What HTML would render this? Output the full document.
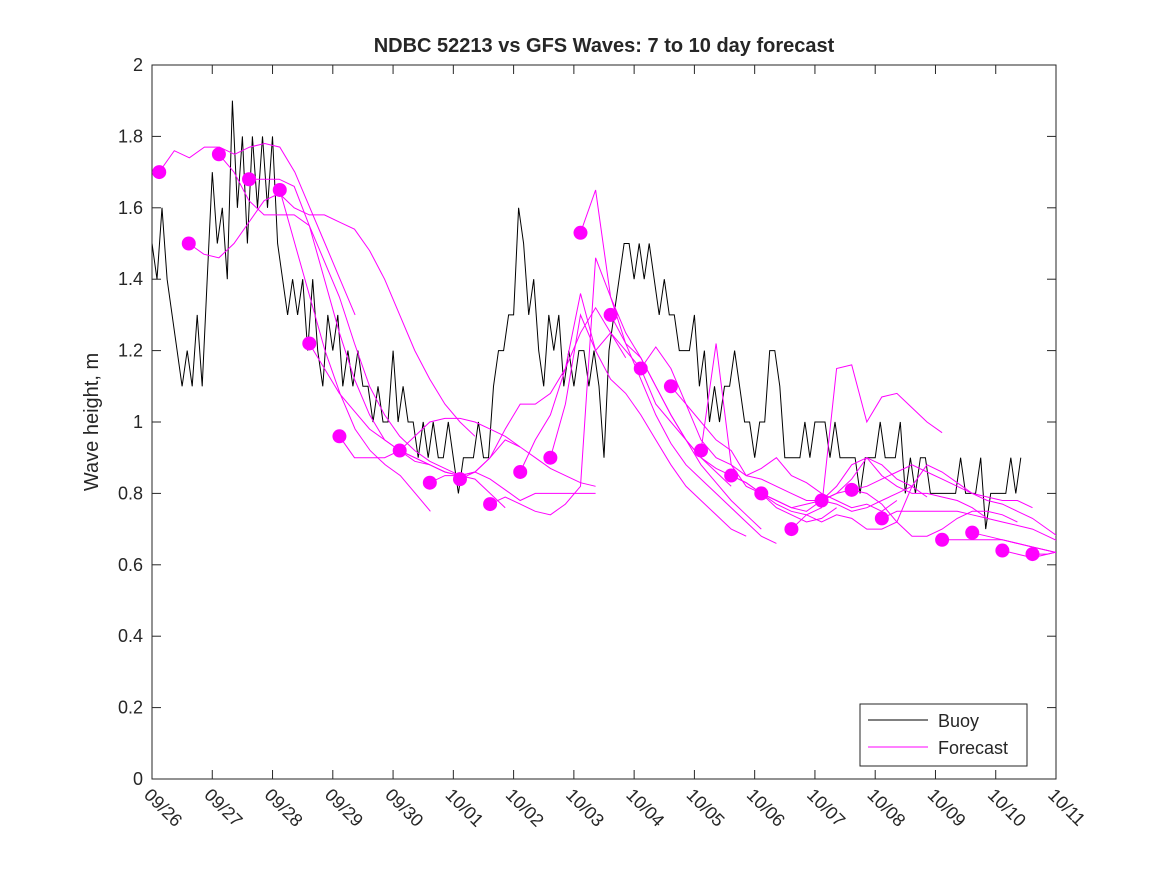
<!DOCTYPE html>
<html><head><meta charset="utf-8"><style>
body{margin:0;background:#fff;}
svg text{font-family:"Liberation Sans","DejaVu Sans",sans-serif;fill:#262626;}
</style></head><body>
<svg id="c" width="1167" height="875">
<rect width="1167" height="875" fill="#fff"/>
<text x="604" y="52" text-anchor="middle" font-size="20" font-weight="bold">NDBC 52213 vs GFS Waves: 7 to 10 day forecast</text>
<text transform="translate(98,422) rotate(-90)" text-anchor="middle" font-size="20">Wave height, m</text>
<g id="plot"></g>
</svg>
<script>
const dateLabels=["09/26","09/27","09/28","09/29","09/30","10/01","10/02","10/03","10/04","10/05","10/06","10/07","10/08","10/09","10/10","10/11"];
const yTicks=[0,0.2,0.4,0.6,0.8,1,1.2,1.4,1.6,1.8,2];
const yTickLabels=["0","0.2","0.4","0.6","0.8","1","1.2","1.4","1.6","1.8","2"];
const buoyStep=1/12;
const buoyValues=[1.5,1.4,1.6,1.4,1.3,1.2,1.1,1.2,1.1,1.3,1.1,1.4,
1.7,1.5,1.6,1.4,1.9,1.6,1.8,1.5,1.8,1.6,1.8,1.6,
1.8,1.5,1.4,1.3,1.4,1.3,1.4,1.2,1.4,1.2,1.1,1.3,
1.2,1.3,1.1,1.2,1.1,1.2,1.1,1.1,1.0,1.1,1.0,1.0,
1.2,1.0,1.1,1.0,1.0,0.9,1.0,0.9,1.0,0.9,0.9,1.0,
0.9,0.8,0.9,0.9,0.9,1.0,0.9,0.9,1.1,1.2,1.2,1.3,
1.3,1.6,1.5,1.3,1.4,1.2,1.1,1.3,1.2,1.3,1.1,1.2,
1.1,1.2,1.2,1.1,1.2,1.1,0.9,1.2,1.3,1.4,1.5,1.5,
1.4,1.5,1.4,1.5,1.4,1.3,1.4,1.3,1.3,1.2,1.2,1.2,
1.3,1.1,1.2,1.0,1.1,1.0,1.1,1.1,1.2,1.1,1.0,1.0,
0.9,1.0,1.0,1.2,1.2,1.1,0.9,0.9,0.9,0.9,1.0,0.9,
1.0,1.0,1.0,0.9,1.0,0.9,0.9,0.9,0.9,0.8,0.9,0.9,
0.9,1.0,0.9,0.9,0.9,1.0,0.8,0.9,0.8,0.9,0.9,0.8,
0.8,0.8,0.8,0.8,0.8,0.9,0.8,0.8,0.8,0.9,0.7,0.8,
0.8,0.8,0.8,0.9,0.8,0.9];
const dotDays=[0.12,0.61,1.11,1.61,2.12,2.61,3.11,4.11,4.61,5.11,5.61,6.11,6.61,7.11,7.61,8.11,8.61,9.11,9.61,10.11,10.61,11.11,11.61,12.11,13.11,13.61,14.11,14.61];
const dotValues=[1.70,1.50,1.75,1.68,1.65,1.22,0.96,0.92,0.83,0.84,0.77,0.86,0.90,1.53,1.30,1.15,1.10,0.92,0.85,0.80,0.70,0.78,0.81,0.73,0.67,0.69,0.64,0.63];
const fcStep=0.25;
const fcStarts=dotDays;
const fcValues=[
[1.70,1.76,1.74,1.77,1.77,1.75,1.77,1.78,1.77,1.7,1.6,1.5,1.4,1.3],
[1.50,1.47,1.46,1.50,1.56,1.62,1.64,1.60,1.58,1.58,1.56,1.54,1.48,1.40,1.30,1.20,1.12,1.05,1.00,0.96],
[1.75,1.70,1.62,1.58,1.58,1.58,1.55,1.45,1.35,1.22,1.10,1.02,0.96,0.92,0.89,0.87,0.85],
[1.68,1.68,1.68,1.66,1.55,1.40,1.25,1.12,1.02,0.95,0.92,0.90,0.88],
[1.65,1.50,1.35,1.20,1.08,0.98,0.92,0.88,0.85,0.80,0.75],
[1.22,1.15,1.08,1.03,0.98,0.95,0.92,0.90,0.88,0.86,0.85,0.84,0.80,0.76],
[0.96,0.90,0.90,0.90,0.92,0.96,1.00,1.01,1.01,1.00,0.98,0.96,0.93],
[0.92,0.89,0.88,0.86,0.85,0.86,0.90,0.95,0.93,0.90,0.87,0.85,0.83,0.82],
[0.83,0.85,0.85,0.86,0.90,0.98,1.05,1.05,1.08,1.15,1.25,1.32,1.25,1.18],
[0.84,0.86,0.84,0.81,0.78,0.80,0.80,0.80,0.80,0.80],
[0.77,0.79,0.77,0.75,0.74,0.77,0.82,1.46,1.35,1.25,1.18,1.10,1.02,0.95,0.90,0.86,0.82],
[0.86,0.95,1.02,1.15,1.36,1.20,1.25,1.20,1.15,1.05,1.00,0.95,0.88,0.83,0.78,0.74,0.70],
[0.90,1.05,1.30,1.20,1.12,1.08,1.02,0.95,0.88,0.82,0.78,0.74,0.70,0.68],
[1.53,1.65,1.35,1.22,1.12,1.02,0.94,0.88,0.84,0.80,0.76,0.72,0.68,0.66],
[1.30,1.22,1.18,1.10,1.02,0.95,0.90,0.87,0.85,0.83,0.80,0.76,0.74,0.72,0.73,0.76],
[1.15,1.21,1.15,1.05,1.00,0.95,0.92,0.85,0.87,0.90,0.85,0.83,0.80,0.78,0.76,0.77,0.75,0.78],
[1.1,1.05,0.95,0.90,0.88,0.85,0.84,0.82,0.80,0.78,0.78,0.77,0.75,0.76,0.78,0.80,0.82],
[0.92,1.22,0.88,0.82,0.80,0.78,0.76,0.77,0.78,0.80,0.84,0.90,0.88,0.84,0.82,0.79],
[0.85,0.83,0.80,0.77,0.75,0.74,0.76,1.15,1.16,1.00,1.07,1.08,1.04,1.00,0.97],
[0.80,0.78,0.76,0.75,0.78,0.82,0.88,0.90,0.85,0.82,0.80,0.80,0.79,0.78,0.76,0.73],
[0.70,0.74,0.72,0.74,0.73,0.70,0.70,0.72,0.82,0.88,0.86,0.83,0.80,0.79,0.78,0.78,0.76],
[0.78,0.80,0.81,0.82,0.84,0.86,0.88,0.86,0.84,0.82,0.80,0.78,0.77,0.75,0.73,0.70,0.67,0.65,0.62,0.59],
[0.81,0.80,0.77,0.72,0.68,0.68,0.70,0.73,0.75,0.75,0.74,0.72],
[0.73,0.75,0.75,0.75,0.75,0.75,0.74,0.73,0.72,0.71,0.70,0.68,0.66,0.64,0.63,0.62],
[0.67,0.67,0.67,0.67,0.67,0.66,0.65,0.64,0.63,0.62,0.61,0.60,0.60,0.61],
[0.69,0.68,0.67,0.66,0.65,0.64,0.63,0.64,0.65,0.66],
[0.64,0.63,0.62,0.63,0.64,0.65,0.64],
[0.63,0.63,0.64,0.66]];

const NS="http://www.w3.org/2000/svg";
const L=152,R=1056,T=65,B=779,DAYS=15;
const xs=t=>L+(R-L)*t/DAYS;
const ys=v=>B-(B-T)*v/2;
const g=document.getElementById('plot');
function mk(tag,attrs,parent){const e=document.createElementNS(NS,tag);for(const k in attrs)e.setAttribute(k,attrs[k]);(parent||g).appendChild(e);return e;}
const cp=mk('clipPath',{id:'cl'});mk('rect',{x:L,y:T,width:R-L,height:B-T},cp);
const box=mk('rect',{x:L,y:T,width:R-L,height:B-T,fill:'none',stroke:'#262626','stroke-width':1});


yTicks.forEach((v,i)=>{
  const y=ys(v);
  mk('line',{x1:L,x2:L+9,y1:y,y2:y,stroke:'#262626'});
  mk('line',{x1:R,x2:R-9,y1:y,y2:y,stroke:'#262626'});
  const t=mk('text',{x:L-9,y:y+6,'text-anchor':'end','font-size':18});
  t.textContent=yTickLabels[i];
  
  
});
dateLabels.forEach((d,i)=>{
  const x=xs(i);
  mk('line',{x1:x,x2:x,y1:B,y2:B-9,stroke:'#262626'});
  mk('line',{x1:x,x2:x,y1:T,y2:T+9,stroke:'#262626'});
  const t=mk('text',{transform:`translate(${x-9},${B+17}) rotate(45)`,'font-size':18});
  t.textContent=d;
  
  
});
const pg=mk('g',{'clip-path':'url(#cl)'});
const bpts=buoyValues.map((v,i)=>xs(i*buoyStep).toFixed(1)+','+ys(v).toFixed(1)).join(' ');
const bl=mk('polyline',{points:bpts,fill:'none',stroke:'#000','stroke-width':1},pg);


fcValues.forEach((arr,k)=>{
  const pts=arr.map((v,i)=>xs(fcStarts[k]+i*fcStep).toFixed(1)+','+ys(v).toFixed(1)).join(' ');
  const p=mk('polyline',{points:pts,fill:'none',stroke:'#ff00ff','stroke-width':1},pg);
  
  
});
dotDays.forEach((t,i)=>{
  const c=mk('circle',{cx:xs(t),cy:ys(dotValues[i]),r:7,fill:'#ff00ff'},pg);
  
  
});
const lg=mk('g',{});


mk('rect',{x:860,y:704,width:167,height:62,fill:'#fff',stroke:'#262626'},lg);
mk('line',{x1:868,x2:928,y1:720,y2:720,stroke:'#000'},lg);
mk('line',{x1:868,x2:928,y1:747,y2:747,stroke:'#ff00ff'},lg);
const t1=mk('text',{x:938,y:727,'font-size':18},lg);t1.textContent='Buoy';


const t2=mk('text',{x:938,y:754,'font-size':18},lg);t2.textContent='Forecast';


</script>
</body></html>
